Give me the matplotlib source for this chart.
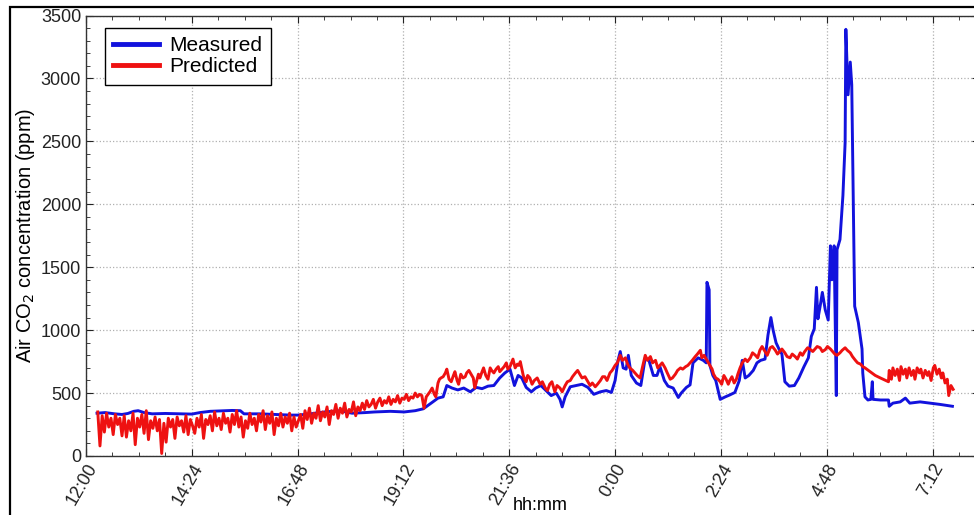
import numpy as np
import matplotlib.pyplot as plt
from matplotlib.ticker import MultipleLocator, FuncFormatter
from matplotlib.patches import Rectangle

plt.rcParams['font.family'] = ['Liberation Sans', 'DejaVu Sans']

# minutes after 12:00
measured_t = [15, 26, 39, 49, 57, 65, 71, 79, 90, 108, 128, 144, 155, 169, 182, 199, 210, 215,
              237, 257, 278, 289, 305, 325, 346, 362, 380, 393, 414, 433, 448, 459, 465, 472,
              479, 486, 491, 498, 506, 514, 523, 531, 539, 547, 555, 563, 570, 577, 583, 588,
              593, 599, 606, 612, 619, 626, 633, 640, 645, 648, 652, 659, 667, 675, 683, 691,
              700, 708, 715, 720, 724, 727, 731, 735, 738, 742, 749, 755, 761, 766, 772, 777,
              781, 787, 792, 799, 806, 810, 817, 822, 826, 833, 840, 844, 845, 848, 849, 853,
              857, 863, 870, 876, 883, 889, 893, 897, 902, 908, 913, 918, 924, 928, 932, 935,
              939, 943, 947, 951, 957, 964, 970, 977, 983, 987, 991, 994, 996, 999, 1002, 1006,
              1010, 1013, 1015, 1018, 1021, 1022, 1026, 1030, 1033, 1034, 1037, 1040, 1042,
              1045, 1046, 1051, 1056, 1057, 1060, 1064, 1068, 1070, 1071, 1081, 1092, 1093,
              1098, 1108, 1115, 1121, 1135, 1149, 1162, 1179]
measured = [340, 345, 335, 330, 338, 355, 360, 345, 335, 338, 335, 333, 345, 355, 358, 362, 360, 335,
            335, 330, 325, 325, 335, 350, 360, 340, 345, 350, 355, 350, 360, 375, 400, 430,
            460, 470, 560, 540, 525, 540, 510, 545, 535, 555, 560, 620, 660, 690, 560, 640,
            620, 545, 510, 540, 560, 520, 480, 500, 450, 390, 470, 550, 560, 570, 545, 490,
            510, 520, 505, 600, 760, 830, 700, 690, 800, 640, 580, 560, 780, 760, 640, 640,
            710, 600, 555, 540, 465, 500, 545, 565, 740, 780, 760, 740, 1380, 1320, 720, 640,
            600, 450, 470, 485, 505, 600, 760, 620, 640, 680, 740, 760, 770, 960, 1100, 1000,
            900, 850, 810, 590, 555, 560, 620, 710, 780, 950, 1010, 1340, 1090, 1190, 1300, 1160,
            1080, 1670, 1400, 1670, 480, 1640, 1720, 2070, 2490, 3390, 2870, 3130, 2950,
            1620, 1190, 1060, 850, 660, 470, 445, 450, 590, 450, 445, 445, 395,
            420, 430, 460, 420, 430, 420, 410, 395]

predicted_t = list(range(16, 464, 3)) + [
    468, 474, 479, 483, 489, 494, 500, 505, 510, 516, 521, 527, 529, 534, 539, 544, 550, 555,
    561, 566, 572, 577, 581, 587, 591, 595, 599, 604, 610, 618, 625, 631, 638, 645, 652, 659,
    666, 672, 679, 686, 693, 700, 706, 713, 720, 727, 734, 740, 747, 754, 761, 768, 775, 781,
    788, 795, 802, 809, 816, 822, 829, 836, 841, 847, 852, 857, 863, 868, 874, 879, 885, 890,
    897, 904, 911, 917, 924, 931, 938, 944, 951, 958, 965, 972, 978, 986, 992, 999, 1006, 1013,
    1019, 1026, 1033, 1040, 1047, 1054, 1060, 1067, 1074, 1081, 1092, 1093, 1096, 1098, 1101,
    1104, 1107, 1109, 1112, 1115, 1117, 1120, 1123, 1126, 1128, 1131, 1134, 1136, 1139, 1142,
    1145, 1147, 1150, 1153, 1155, 1158, 1161, 1164, 1166, 1169, 1172, 1174, 1177, 1180]
predicted = [
    350, 80, 320, 190, 340, 230, 300, 170, 330, 250, 300, 160, 320, 150, 280, 200, 340, 90,
    300, 230, 330, 180, 360, 130, 280, 220, 310, 200, 290, 20, 260, 110, 300, 230, 290, 140,
    310, 240, 280, 190, 320, 170, 290, 240,
    180, 300, 230, 330, 140, 290, 250, 320, 200, 350, 240, 300, 210, 340, 260, 300, 190, 330,
    250, 360, 230, 310, 150, 280, 220, 340, 250, 300, 200, 330, 270, 360, 210, 320, 260, 350,
    170, 300, 240, 340, 230, 310, 260, 340, 200, 310, 230, 280,
    330, 220, 360, 290, 380, 260, 340, 300, 400, 280, 350, 310, 390, 250, 360, 330, 410, 300,
    380, 340, 420, 310, 370, 350, 430, 320, 390, 360,
    420, 370, 440, 390, 410, 450, 380, 430, 460, 400, 440, 420, 470, 410, 450, 430, 480, 420,
    460, 450, 490, 440, 470, 460, 500, 470, 490, 480, 380, 470,
    510, 490, 580, 620, 660, 610, 640, 600, 650, 630, 680, 620, 540, 650, 670, 640, 700, 660,
    710, 690, 740, 710, 770, 730, 750, 640, 590, 620, 600, 570, 540, 570, 510, 540, 560, 600,
    660, 650, 630, 560, 550, 600, 630, 660, 720, 800, 780, 700, 660, 620, 800, 790, 760, 720,
    700, 610, 650, 700, 710, 740, 790, 840, 800, 740, 690, 620, 590, 640, 570, 630, 610, 700,
    770, 780, 800, 840, 830, 860, 840, 830, 820, 780, 790, 820, 830, 845, 850, 860, 845, 850,
    810, 820, 860, 820, 760, 730, 700, 670, 640, 620, 590, 680, 610, 700, 640,
    690, 600, 710, 650, 690, 620, 700, 640, 680, 610, 700, 660, 690, 620, 680,
    640, 670, 600, 700, 720, 650, 690, 620, 660, 580, 610, 480, 560, 530]

# extra in-between readings of the jagged predicted trace, 19:50 - 5:40
predicted_mid_t = [471, 476, 481, 486, 491, 497, 502, 507, 513, 518, 524, 536, 541, 547, 552,
                   558, 563, 569, 574, 579, 584, 589, 597, 601, 607, 614, 621, 628, 634, 641,
                   648, 655, 662, 669, 675, 682, 689, 696, 703, 709, 716, 723, 730, 737, 744,
                   750, 757, 764, 771, 778, 784, 791, 798, 805, 812, 819, 825, 832, 838, 844,
                   849, 854, 860, 865, 871, 876, 882, 887, 893, 900, 907, 914, 920, 927, 934,
                   941, 947, 954, 961, 968, 975, 982, 989, 995, 1002, 1009, 1016, 1022, 1029,
                   1036, 1043, 1050, 1057]
predicted_mid = [540, 470, 610, 630, 690, 590, 670, 570, 620, 660, 650, 620, 700, 610, 680,
                 690, 670, 710, 690, 740, 700, 720, 610, 640, 570, 620, 590, 520, 590, 560,
                 510, 590, 630, 680, 620, 600, 580, 570, 630, 600, 680, 740, 760, 730, 680,
                 640, 700, 760, 740, 700, 740, 660, 620, 680, 690, 720, 760, 810, 780, 770,
                 720, 650, 610, 570, 610, 600, 580, 650, 740, 750, 820, 780, 870, 800, 870,
                 810, 850, 790, 810, 770, 800, 860, 830, 870, 830, 870, 830, 800, 840,
                 840, 790, 740, 710]

pt = np.array(predicted_t + predicted_mid_t)
pv = np.array(predicted + predicted_mid)
order = np.argsort(pt, kind='stable')
pt, pv = pt[order], pv[order]


def hhmm(m, pos):
    m = int(round(m)) + 12 * 60
    m = m % 1440
    return f"{m // 60}:{m % 60:02d}"


fig = plt.figure(figsize=(9.74, 5.15), dpi=100)
ax = fig.add_axes([86 / 974, 59 / 515, 1.005 - 86 / 974, (456 - 15.5) / 515])

ax.plot(measured_t, measured, color='#1212dd', lw=2.1, label='Measured', zorder=3)
ax.plot(pt, pv, color='#ee1111', lw=2.1, label='Predicted', zorder=4)

ax.set_xlim(0, 1215)
ax.set_ylim(0, 3500)
ax.xaxis.set_major_locator(MultipleLocator(144))
ax.xaxis.set_minor_locator(MultipleLocator(36))
ax.xaxis.set_major_formatter(FuncFormatter(hhmm))
ax.yaxis.set_major_locator(MultipleLocator(500))
ax.yaxis.set_minor_locator(MultipleLocator(100))

ax.grid(True, which='major', color='#b0b0b0', linestyle=':', linewidth=0.9)
ax.tick_params(which='both', direction='in', top=True, right=True, labelsize=13, colors='#222222')
ax.tick_params(which='major', length=5)
ax.tick_params(which='minor', length=3)
for lab in ax.get_xticklabels():
    lab.set_rotation(60)
    lab.set_ha('right')
    lab.set_rotation_mode('anchor')
for s in ax.spines.values():
    s.set_color('#333333')
    s.set_linewidth(1.0)

ax.set_ylabel('Air CO$_2$ concentration (ppm)', fontsize=14.5, labelpad=3)
ax.set_xlabel('hh:mm', fontsize=13)
ax.xaxis.set_label_coords((540 - 86) / 893, -41 / 440.5)
ax.xaxis.label.set_va('top')

leg = ax.legend(loc='upper left', bbox_to_anchor=(0.021, 0.972), borderaxespad=0, fontsize=15,
                frameon=True, fancybox=False, edgecolor='black', framealpha=1, handlelength=2.2,
                borderpad=0.4, labelspacing=0.1, handletextpad=0.5)
leg.get_frame().set_linewidth(1.0)
for line in leg.get_lines():
    line.set_linewidth(3.5)

fig.patches.append(Rectangle((10 / 974, -0.1), 1.2, 1.1 - 7 / 515, transform=fig.transFigure,
                             fill=False, edgecolor='black', linewidth=1.6, zorder=10))

fig.savefig('out.png', dpi=100)
